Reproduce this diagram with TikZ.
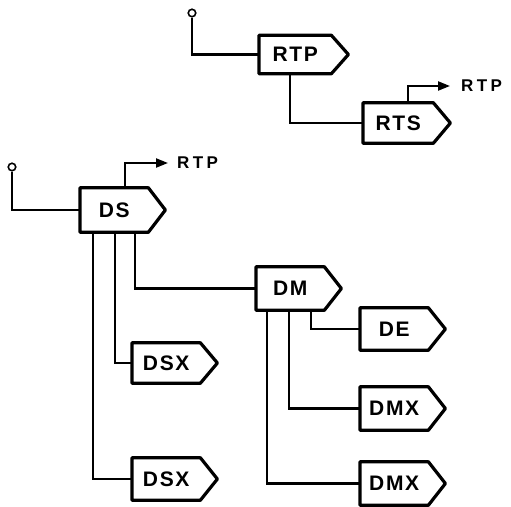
\documentclass[tikz,border=0pt]{standalone}
\usepackage{fontspec}
\setmainfont{Liberation Sans}
\newfontfamily\boxfont[LetterSpace=8]{Liberation Sans}
\newfontfamily\lblfont[LetterSpace=20]{Liberation Sans}
\usetikzlibrary{arrows.meta,calc}
\begin{document}
\begin{tikzpicture}[x=1pt,y=-1pt,
 tag/.style={minimum width=68pt,minimum height=42pt,inner sep=0pt,anchor=west,font=\boxfont\bfseries\fontsize{21}{24}\selectfont},
 boxline/.style={line width=3.2pt,line join=round},
 wire/.style={line width=2.2pt},
 outarrow/.style={wire,-{Triangle[length=12pt,width=9pt]}},
 term/.style={circle,draw,line width=1.6pt,minimum size=7.5pt,inner sep=0pt},
 lbl/.style={anchor=west,font=\lblfont\bfseries\fontsize{17}{19}\selectfont,inner sep=0pt}]
\useasboundingbox (0,0) rectangle (511,506);
% nodes
\node[term] (in1) at (192,13) {};
\node[tag,minimum height=38pt,minimum width=72pt] (rtp) at (259,54.5) {RTP};
\node[tag,minimum height=40pt,minimum width=70pt] (rts) at (363,123) {RTS};
\coordinate (o1) at (450,86);
\node[lbl] (l1) at (461,86) {RTP};
\node[term] (in2) at (12,167) {};
\node[tag,minimum height=44pt] (ds) at (80,210) {DS};
\coordinate (o2) at (168,163);
\node[lbl] (l2) at (177,163) {RTP};
\node[tag,minimum height=43pt] (dm) at (256,288.5) {DM};
\node[tag] (de) at (360,329) {DE};
\node[tag,minimum height=43pt] (dmxa) at (360,408.5) {DMX};
\node[tag,minimum height=43pt] (dmxb) at (360,483.5) {DMX};
\node[tag,minimum height=40pt] (dsxa) at (132,363) {DSX};
\node[tag] (dsxb) at (132,479) {DSX};
% tag outlines
\foreach \n in {rtp,rts,ds,dm,de,dmxa,dmxb,dsxa,dsxb}
  \draw[boxline] (\n.north west) -- (\n.north east) -- ([xshift=17pt]\n.east) -- (\n.south east) -- (\n.south west) -- cycle;
% wires
\draw[wire] (in1.south) |- (rtp.west);
\draw[wire] ($(rtp.south west)+(31,0)$) |- (rts.west);
\draw[outarrow] ($(rts.north west)+(45,0)$) |- (o1);
\draw[wire] (in2.south) |- (ds.west);
\draw[outarrow] ($(ds.north west)+(45,0)$) |- (o2);
\draw[wire] ($(ds.south west)+(55,0)$) |- (dm.west);
\draw[wire] ($(ds.south west)+(35,0)$) |- (dsxa.west);
\draw[wire] ($(ds.south west)+(13,0)$) |- (dsxb.west);
\draw[wire] ($(dm.south west)+(55,0)$) |- (de.west);
\draw[wire] ($(dm.south west)+(33,0)$) |- (dmxa.west);
\draw[wire] ($(dm.south west)+(11,0)$) |- (dmxb.west);
\end{tikzpicture}
\end{document}
